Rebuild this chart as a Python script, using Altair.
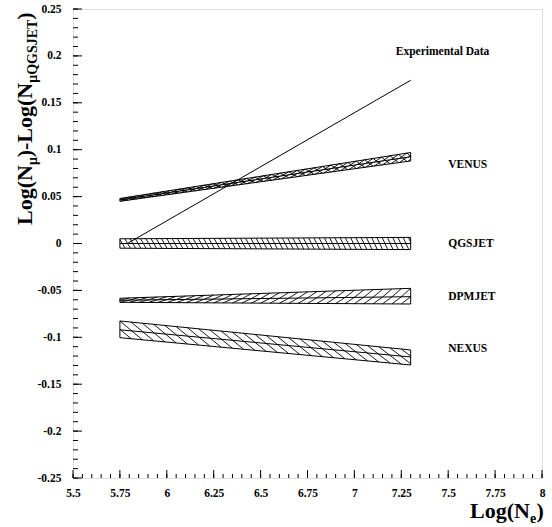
import altair as alt
import pandas as pd

# ---------------- data ----------------
band_x = [5.75, 7.3]
venus_hi = [0.048, 0.097]
venus_mid = [0.0465, 0.0925]
venus_lo = [0.045, 0.088]
qgs_hi = [0.005, 0.0065]
qgs_mid = [0.0, 0.0]
qgs_lo = [-0.005, -0.0065]
dpm_hi = [-0.0584, -0.0478]
dpm_mid = [-0.0605, -0.0567]
dpm_lo = [-0.0627, -0.0645]
nex_hi = [-0.0826, -0.1135]
nex_mid = [-0.092, -0.121]
nex_lo = [-0.1004, -0.1295]

exp_x = [5.79, 7.3]
exp_y = [0.0, 0.174]

label_text = ["Experimental Data", "VENUS", "QGSJET", "DPMJET", "NEXUS"]
label_x = [7.47, 7.5, 7.5, 7.5, 7.5]
label_y = [0.204, 0.084, 0.0, -0.057, -0.113]

x_major = [5.5, 5.75, 6, 6.25, 6.5, 6.75, 7, 7.25, 7.5, 7.75, 8]
y_major = [-0.25, -0.2, -0.15, -0.1, -0.05, 0, 0.05, 0.1, 0.15, 0.2, 0.25]
x_minor = [round(5.5 + 0.05 * i, 2) for i in range(51)]
y_minor = [round(-0.25 + 0.01 * i, 2) for i in range(51)]

# ---------------- style ----------------
W, H = 469, 469
FONT = "Liberation Serif"
xs = alt.Scale(domain=[5.5, 8], nice=False, zero=False)
ys = alt.Scale(domain=[-0.25, 0.25], nice=False, zero=False)


def lin(e, x):
    return e[0] + (e[1] - e[0]) * (x - band_x[0]) / (band_x[1] - band_x[0])


def hatch(top, bot, d, s, direction):
    x0, x1 = band_x
    rows = []
    xa = x0 - d
    while xa < x1:
        xb = xa + d
        if direction == "/":
            ya, yb = lin(bot, xa), lin(top, xb)
        else:
            ya, yb = lin(top, xa), lin(bot, xb)
        ca, cb = max(xa, x0), min(xb, x1)
        if cb > ca:
            ya2 = ya + (yb - ya) * (ca - xa) / d
            yb2 = ya + (yb - ya) * (cb - xa) / d
            rows.append({"x": ca, "y": ya2, "x2": cb, "y2": yb2})
        xa += s
    return rows


def band_df(hi, lo):
    return pd.DataFrame({"x": band_x, "hi": hi, "lo": lo})


segs = []
# VENUS: cross hatched
segs += hatch(venus_hi, venus_mid, 0.04, 0.045, "/")
segs += hatch(venus_mid, venus_lo, 0.04, 0.045, "/")
segs += hatch(venus_hi, venus_lo, 0.045, 0.045, "\\")
# QGSJET: back-slash hatching
segs += hatch(qgs_hi, qgs_lo, 0.03, 0.028, "\\")
# DPMJET: slash hatching per half
segs += hatch(dpm_hi, dpm_mid, 0.05, 0.05, "/")
segs += hatch(dpm_mid, dpm_lo, 0.05, 0.05, "/")
# NEXUS: wide back-slash hatching
segs += hatch(nex_hi, nex_lo, 0.12, 0.06, "\\")
hatch_df = pd.DataFrame(segs)

layers = []

axis_common = dict(title=None, ticks=False, domain=False, grid=False,
                   labelFont=FONT, labelFontWeight="bold", labelFontSize=11.5,
                   labelColor="black", labelExpr="'' + datum.value", labelFlush=False)
axis_layer = alt.Chart(pd.DataFrame({"x": [5.5], "y": [0.0]})).mark_point(opacity=0).encode(
    x=alt.X("x:Q", scale=xs, axis=alt.Axis(values=x_major, labelPadding=9, **axis_common)),
    y=alt.Y("y:Q", scale=ys, axis=alt.Axis(values=y_major, labelPadding=12, **axis_common)),
)
layers.append(axis_layer)


def yticks(vals, length):
    return alt.Chart(pd.DataFrame({"v": vals})).mark_rule(color="black", strokeWidth=1).encode(
        y=alt.Y("v:Q", scale=ys), x=alt.value(0), x2=alt.value(length))


def xticks(vals, length):
    return alt.Chart(pd.DataFrame({"v": vals})).mark_rule(color="black", strokeWidth=1).encode(
        x=alt.X("v:Q", scale=xs), y=alt.value(H), y2=alt.value(H - length))


layers += [yticks(y_minor, 5), yticks(y_major, 9), xticks(x_minor, 4), xticks(x_major, 8)]

# band outlines
for hi, lo in [(venus_hi, venus_lo), (qgs_hi, qgs_lo), (dpm_hi, dpm_lo), (nex_hi, nex_lo)]:
    layers.append(
        alt.Chart(band_df(hi, lo)).mark_area(fill="white", fillOpacity=0, stroke="black", strokeWidth=1).encode(
            x=alt.X("x:Q", scale=xs), y=alt.Y("hi:Q", scale=ys), y2="lo:Q")
    )
# middle lines
for mid in [venus_mid, qgs_mid, dpm_mid, nex_mid]:
    layers.append(
        alt.Chart(pd.DataFrame({"x": band_x, "y": mid})).mark_line(color="black", strokeWidth=1).encode(
            x=alt.X("x:Q", scale=xs), y=alt.Y("y:Q", scale=ys))
    )
# hatching
layers.append(
    alt.Chart(hatch_df).mark_rule(color="black", strokeWidth=0.9).encode(
        x=alt.X("x:Q", scale=xs), y=alt.Y("y:Q", scale=ys), x2="x2:Q", y2="y2:Q")
)
# experimental data line
layers.append(
    alt.Chart(pd.DataFrame({"x": exp_x, "y": exp_y})).mark_line(color="black", strokeWidth=1).encode(
        x=alt.X("x:Q", scale=xs), y=alt.Y("y:Q", scale=ys))
)
# labels
lab = pd.DataFrame({"t": label_text, "x": label_x, "y": label_y})
layers.append(
    alt.Chart(lab.iloc[:1]).mark_text(font=FONT, fontWeight="bold", fontSize=11.5, align="center",
                                      baseline="middle", color="black").encode(
        x=alt.X("x:Q", scale=xs), y=alt.Y("y:Q", scale=ys), text="t:N")
)
layers.append(
    alt.Chart(lab.iloc[1:]).mark_text(font=FONT, fontWeight="bold", fontSize=11.5, align="left",
                                      baseline="middle", color="black").encode(
        x=alt.X("x:Q", scale=xs), y=alt.Y("y:Q", scale=ys), text="t:N")
)


def piece(txt, px, py, size, angle=0):
    kw = dict(font=FONT, fontWeight="bold", fontSize=size, align="left",
              baseline="alphabetic", color="black")
    if angle:
        kw["angle"] = angle
    return alt.Chart(pd.DataFrame({"t": [txt]})).mark_text(**kw).encode(
        x=alt.value(px), y=alt.value(py), text="t:N")


L, T = 73, 9
big, small = 22, 14
# y title (rotated, reading upward)
yb = 225
bx = 32
layers.append(piece("Log(N", bx - L, yb - T, big, 270))
yb -= 59.9
layers.append(piece("\u03bc", bx + 5 - L, yb - T, small, 270))
yb -= 7.8
layers.append(piece(")-Log(N", bx - L, yb - T, big, 270))
yb -= 74.5
layers.append(piece("\u03bcQGSJET", bx + 5 - L, yb - T, small, 270))
yb -= 63.0
layers.append(piece(")", bx - L, yb - T, big, 270))

# x title
xb = 470
by = 518
layers.append(piece("Log(N", xb - L, by - T, big))
layers.append(piece("e", xb + 60 - L, by + 5 - T, small))
layers.append(piece(")", xb + 66.5 - L, by - T, big))

chart = alt.layer(*layers).properties(
    width=W, height=H,
    autosize=alt.AutoSizeParams(type="none"),
    padding={"left": L, "top": T, "right": 10, "bottom": 49},
).configure_view(stroke="black", strokeWidth=1.5).configure(background="white")

chart.save("out.html", embed_options={"renderer": "svg", "actions": False})
